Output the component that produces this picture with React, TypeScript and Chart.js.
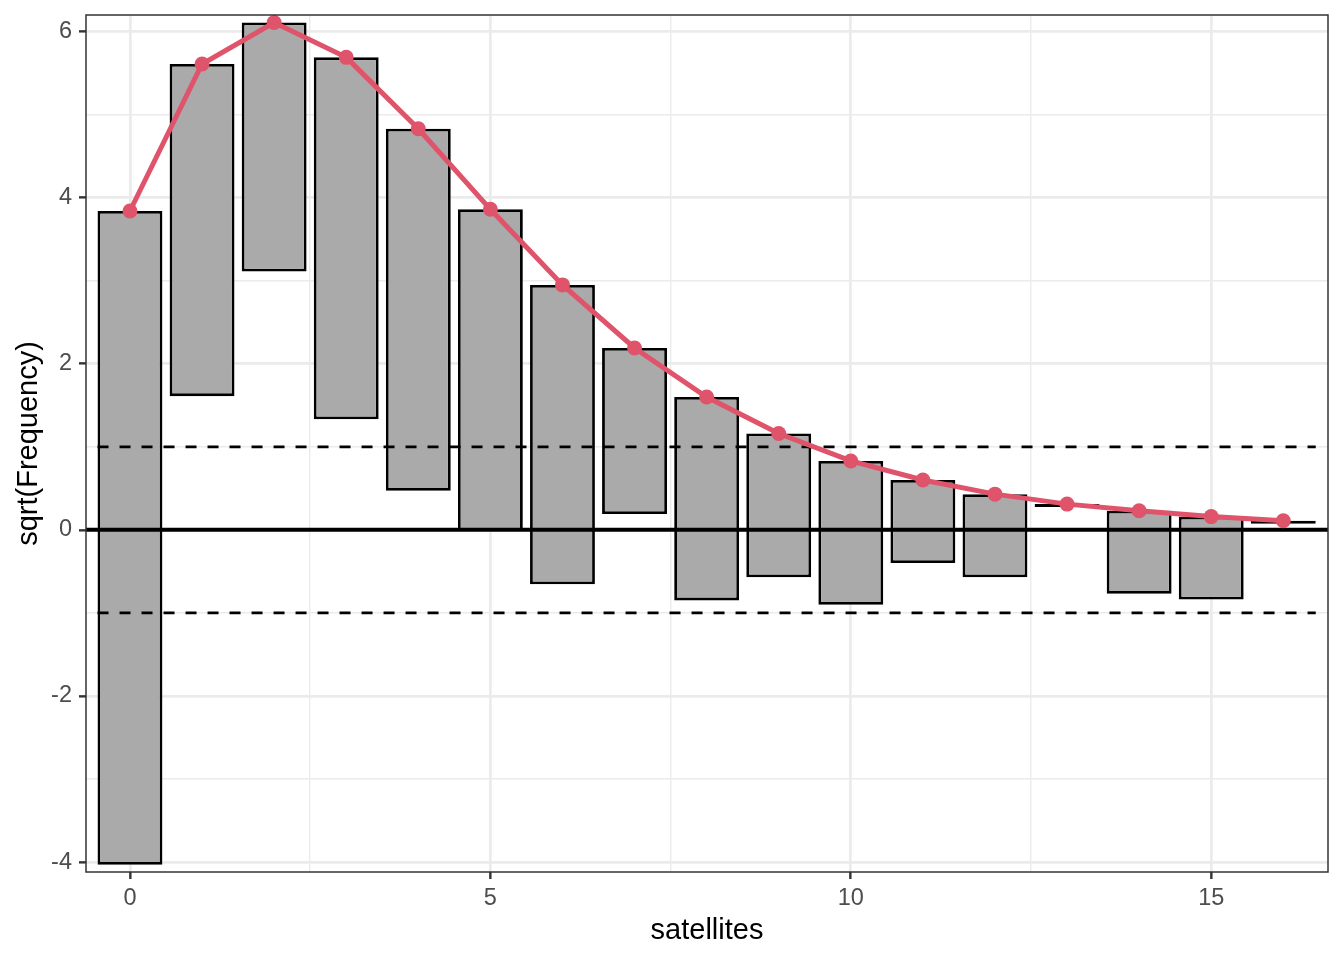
import { useEffect, useRef } from "react";
import { Chart, registerables } from "chart.js";
import type { Plugin } from "chart.js";

Chart.register(...registerables);

// hanging rootogram: bars hang from sqrt(expected) down by sqrt(observed)
const SATELLITES = [0, 1, 2, 3, 4, 5, 6, 7, 8, 9, 10, 11, 12, 13, 14, 15, 16];
const OBSERVED = [62, 16, 9, 19, 19, 15, 13, 4, 6, 3, 3, 1, 1, 0, 1, 1, 0];
const EXPECTED_SQRT = [
  3.84, 5.61, 6.11, 5.69, 4.83, 3.86, 2.95, 2.19, 1.6, 1.16, 0.83, 0.6, 0.43,
  0.31, 0.23, 0.16, 0.11,
];
const X_TICKS = [0, 2.5, 5, 7.5, 10, 12.5, 15];
const X_LABELS = [0, 5, 10, 15];
const Y_TICKS = [-4, -3, -2, -1, 0, 1, 2, 3, 4, 5, 6];
const Y_LABELS = [-4, -2, 0, 2, 4, 6];
const REF_LEVELS = [-1, 1];
const X_RANGE = [-0.61, 16.62];
const Y_RANGE = [-4.12, 6.2];
const BAR_HALF = 0.45;

const FONT = "'Liberation Sans', Arial, Helvetica, sans-serif";
const RED = "#DF536B";

const panelBorder: Plugin = {
  id: "panelBorder",
  afterDraw(chart) {
    const { ctx, chartArea } = chart;
    ctx.save();
    ctx.strokeStyle = "#333333";
    ctx.lineWidth = 1.5;
    ctx.strokeRect(
      chartArea.left,
      chartArea.top,
      chartArea.right - chartArea.left,
      chartArea.bottom - chartArea.top
    );
    ctx.restore();
  },
};

export default function App() {
  const canvasRef = useRef<HTMLCanvasElement>(null);

  useEffect(() => {
    if (!canvasRef.current) return;
    const ctx = canvasRef.current.getContext("2d");
    if (!ctx) return;

    const bars = SATELLITES.map((x, i) => ({
      x,
      y: [EXPECTED_SQRT[i] - Math.sqrt(OBSERVED[i]), EXPECTED_SQRT[i]],
    }));
    const fitted = SATELLITES.map((x, i) => ({ x, y: EXPECTED_SQRT[i] }));
    const barLeft = SATELLITES[0] - BAR_HALF;
    const barRight = SATELLITES[SATELLITES.length - 1] + BAR_HALF;

    const refSets = REF_LEVELS.map((lv) => ({
      type: "line" as const,
      data: [
        { x: barLeft, y: lv },
        { x: barRight, y: lv },
      ],
      borderColor: "#000000",
      borderWidth: 2.8,
      borderDash: [11, 11],
      pointRadius: 0,
      order: 2,
    }));

    const chart = new Chart(ctx, {
      type: "bar",
      data: {
        datasets: [
          {
            type: "line",
            data: fitted,
            borderColor: RED,
            backgroundColor: RED,
            borderWidth: 5,
            pointRadius: 7.5,
            pointBorderWidth: 0,
            pointBackgroundColor: RED,
            tension: 0,
            order: 1,
          },
          ...refSets,
          {
            type: "line",
            data: [
              { x: X_RANGE[0], y: 0 },
              { x: X_RANGE[1], y: 0 },
            ],
            borderColor: "#000000",
            borderWidth: 4,
            pointRadius: 0,
            order: 2,
          },
          {
            type: "bar",
            data: bars as any,
            backgroundColor: "#AAAAAA",
            borderColor: "#000000",
            borderWidth: 2.8,
            borderSkipped: false,
            barPercentage: 0.9,
            categoryPercentage: 1,
            minBarLength: 3,
            order: 3,
          },
        ],
      },
      options: {
        animation: false,
        responsive: true,
        maintainAspectRatio: false,
        devicePixelRatio: 1,
        layout: { padding: { left: 0, right: 16, top: 15, bottom: 0 } },
        plugins: {
          legend: { display: false },
          tooltip: { enabled: false },
        },
        events: [],
        scales: {
          x: {
            type: "linear",
            min: X_RANGE[0],
            max: X_RANGE[1],
            offset: false,
            afterBuildTicks: (scale) => {
              scale.ticks = X_TICKS.map((v) => ({ value: v }));
            },
            afterFit: (scale: any) => {
              scale.height = 88;
              scale.paddingLeft = 0;
              scale.paddingRight = 0;
            },
            grid: {
              offset: false,
              color: "#EBEBEB",
              lineWidth: (c) =>
                X_LABELS.includes(c.tick?.value as number) ? 2.7 : 1.4,
              tickColor: (c) =>
                X_LABELS.includes(c.tick?.value as number) ? "#333333" : "rgba(0,0,0,0)",
              tickWidth: 2.4,
              tickLength: 7,
            },
            border: { display: false },
            ticks: {
              autoSkip: false,
              maxRotation: 0,
              padding: 5,
              color: "#4D4D4D",
              font: { family: FONT, size: 23.5 },
              callback: (v) => (X_LABELS.includes(Number(v)) ? String(v) : ""),
            },
            title: {
              display: true,
              text: "satellites",
              color: "#000000",
              font: { family: FONT, size: 29 },
              padding: { top: 0, bottom: 12 },
            },
          },
          y: {
            type: "linear",
            min: Y_RANGE[0],
            max: Y_RANGE[1],
            afterBuildTicks: (scale) => {
              scale.ticks = Y_TICKS.map((v) => ({ value: v }));
            },
            afterFit: (scale: any) => {
              scale.width = 86;
              scale.paddingTop = 0;
              scale.paddingBottom = 0;
            },
            grid: {
              color: "#EBEBEB",
              lineWidth: (c) =>
                Y_LABELS.includes(c.tick?.value as number) ? 2.7 : 1.4,
              tickColor: (c) =>
                Y_LABELS.includes(c.tick?.value as number) ? "#333333" : "rgba(0,0,0,0)",
              tickWidth: 2.4,
              tickLength: 7,
            },
            border: { display: false },
            ticks: {
              autoSkip: false,
              padding: 7,
              color: "#4D4D4D",
              font: { family: FONT, size: 23.5 },
              callback: (v) => (Y_LABELS.includes(Number(v)) ? String(v) : ""),
            },
            title: {
              display: true,
              text: "sqrt(Frequency)",
              color: "#000000",
              font: { family: FONT, size: 29 },
              padding: { top: 12, bottom: 0 },
            },
          },
        },
      },
      plugins: [panelBorder],
    });

    return () => {
      chart.destroy();
    };
  }, []);

  return (
    <div
      style={{
        position: "fixed",
        left: 0,
        top: 0,
        width: 1344,
        height: 960,
        background: "#ffffff",
      }}
    >
      <canvas ref={canvasRef}></canvas>
    </div>
  );
}
